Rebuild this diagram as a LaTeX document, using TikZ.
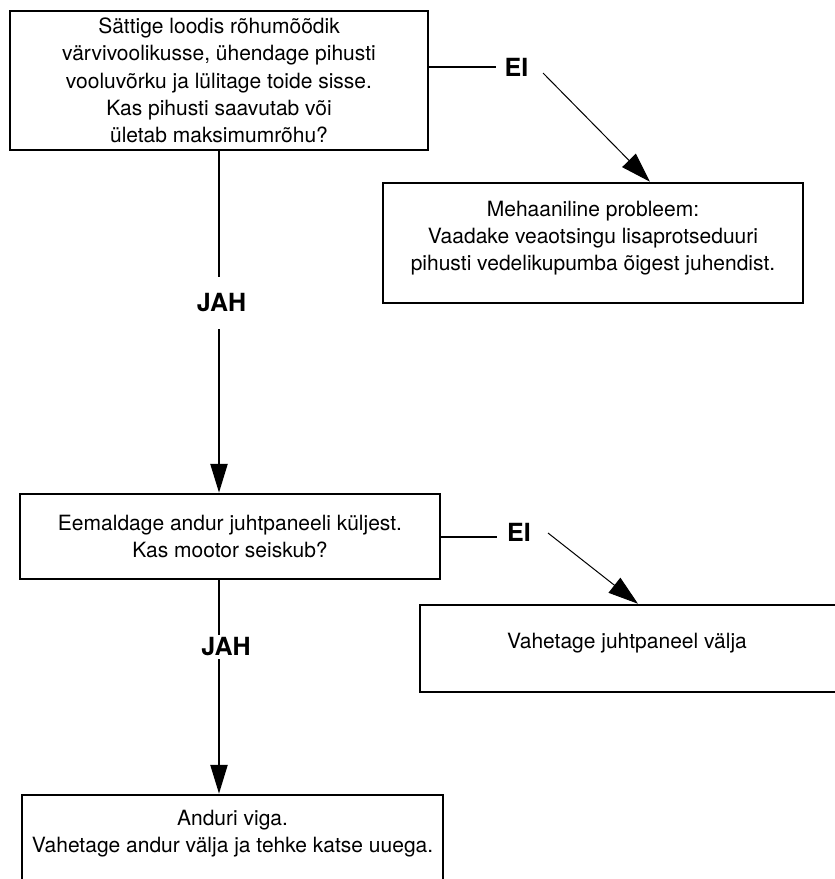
\documentclass[tikz,border=0pt]{standalone}
\usepackage{fontspec}
\setmainfont{TeX Gyre Heros}
\usetikzlibrary{arrows.meta, positioning}

\begin{document}
\begin{tikzpicture}[
    x=1pt, y=-1pt,
    font=\fontsize{21}{27.3}\selectfont,
    block/.style={rectangle, draw, line width=2.5pt, align=center, inner sep=0pt},
    answer/.style={font=\bfseries\fontsize{25}{30}\selectfont, inner sep=0pt},
    link/.style={line width=2.5pt},
    arrow/.style={-{Triangle[length=29pt, width=17pt]}, line width=2.5pt},
    slant/.style={-{Triangle[length=30pt, width=19pt]}, line width=1pt},
]
    \useasboundingbox (0,0) rectangle (835,879);

    % Pressure check
    \node[block, minimum width=418pt, minimum height=139pt] (check) at (219,80.5) {Sättige loodis rõhumõõdik\\värvivoolikusse, ühendage pihusti\\vooluvõrku ja lülitage toide sisse.\\Kas pihusti saavutab või\\ületab maksimumrõhu?};

    % Mechanical problem
    \node[block, minimum width=420pt, minimum height=120pt, text depth=14pt] (mech) at (593,243) {Mehaaniline probleem:\\Vaadake veaotsingu lisaprotseduuri\\pihusti vedelikupumba õigest juhendist.};

    % Sensor check
    \node[block, minimum width=420pt, minimum height=85pt] (sensor) at (230,536.5) {Eemaldage andur juhtpaneeli küljest.\\Kas mootor seiskub?};

    % Control panel
    \node[block, minimum width=440pt, minimum height=87pt, text depth=15pt] (panel) at (640,648.5) {Vahetage juhtpaneel välja\hspace*{26pt}};

    % Sensor fault
    \node[block, minimum width=421pt, minimum height=110pt, text depth=38pt] (fault) at (232.5,850) {Anduri viga.\\Vahetage andur välja ja tehke katse uuega.};

    % Answers
    \node[answer, minimum height=52pt] (yes1) at (221.5,303) {JAH};
    \node[answer, minimum height=24pt] (yes2) at (226,647) {JAH};
    \node[answer, inner xsep=8pt] (no1) at (516.5,67) {EI};
    \node[answer, inner xsep=10pt] (no2) at (519,532) {EI};

    \draw[link] (check.south) -- (check.south |- yes1.north);
    \draw[arrow] (check.south |- yes1.south) -- (check.south |- sensor.north);
    \draw[link] (check.south |- sensor.south) -- (check.south |- yes2.north);
    \draw[arrow] (check.south |- yes2.south) -- (check.south |- fault.north);

    \draw[line width=2pt] (check.east |- no1) -- (no1.west);
    \draw[slant] ([xshift=6.5pt, yshift=-6pt]no1.east) -- ([xshift=57pt]mech.north);
    \draw[line width=2pt] (sensor.east) -- (sensor.east -| no2.west);
    \draw[slant] ([xshift=7pt, yshift=-1pt]no2.east) -- ([xshift=-2pt]panel.north);
\end{tikzpicture}
\end{document}
